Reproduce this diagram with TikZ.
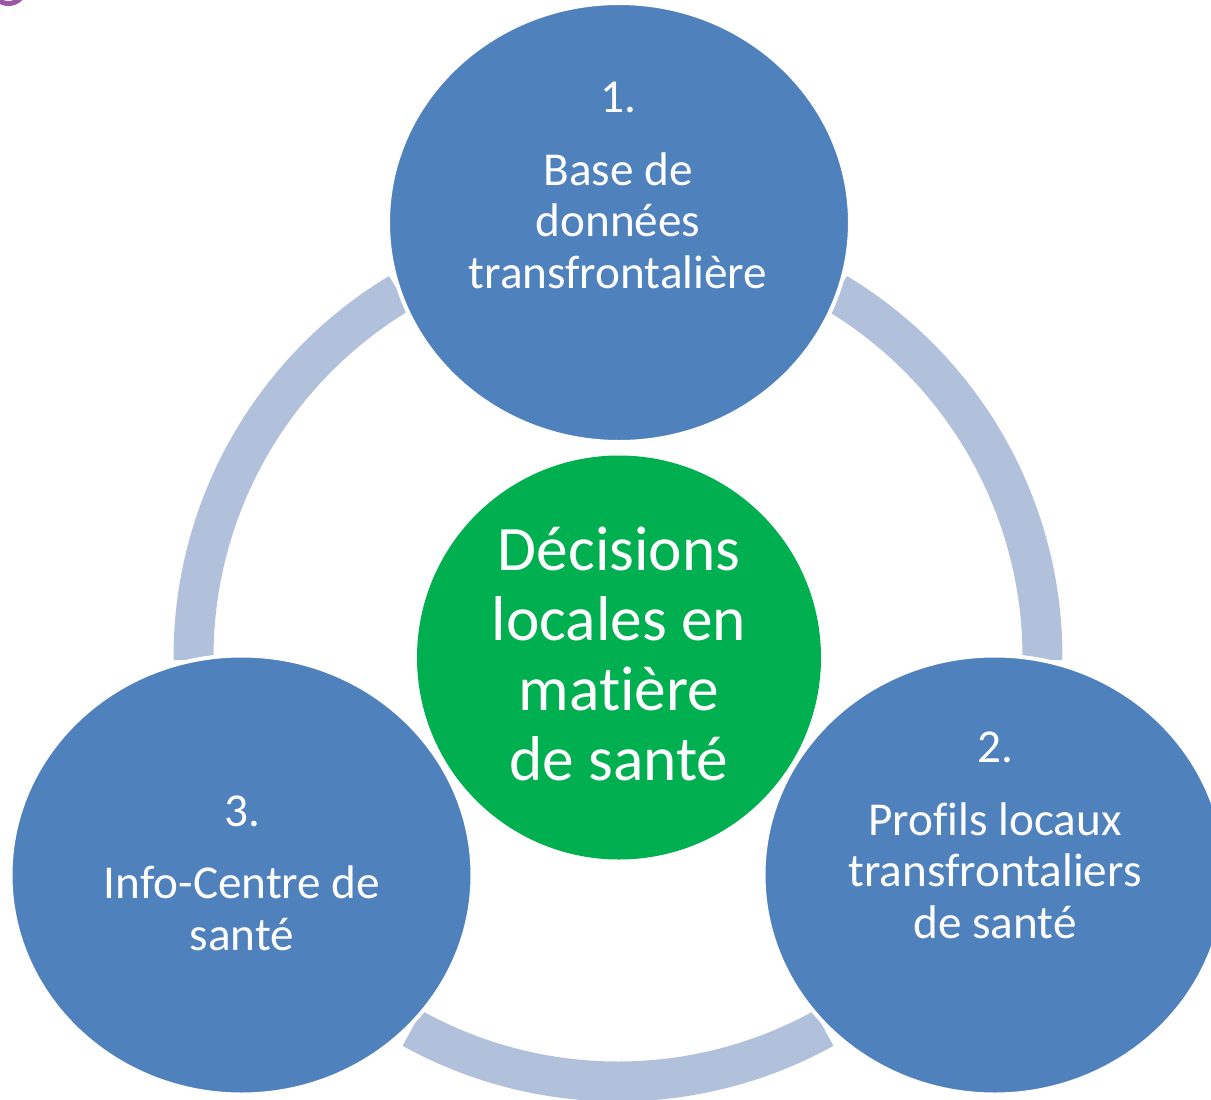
\documentclass[tikz,border=0pt]{standalone}
\usepackage{fontspec}
\setmainfont{Carlito}[Ligatures=NoCommon]
\usetikzlibrary{shapes.geometric,calc}
\definecolor{blueC}{HTML}{4F81BD}
\definecolor{ringC}{HTML}{B2C1DB}
\definecolor{greenC}{HTML}{00B050}
\definecolor{purpleC}{HTML}{9B57A5}
\begin{document}
\begin{tikzpicture}[x=0.75pt,y=-0.75pt,
  bub/.style={ellipse, fill=blueC, draw=white, line width=3pt,
    minimum width=346.5pt, minimum height=329.25pt, inner sep=0pt, outer sep=0pt},
  hub/.style={circle, fill=greenC, minimum size=303pt, inner sep=0pt, outer sep=0pt},
  ringarc/.style={draw=ringC, line width=30pt},
  small/.style={text=white, font=\fontsize{35.4}{42}\selectfont, anchor=base, inner sep=0pt},
  big/.style={text=white, font=\fontsize{47.5}{56}\selectfont, anchor=base, inner sep=0pt}]
\useasboundingbox (0,0) rectangle (1211,1100);
\clip (0,0) rectangle (1211,1100);
% purple fragment at top-left
\draw[purpleC, line width=3.75pt] (-2,0) .. controls (5,5) and (14,5) .. (21,-2);
% ring
\coordinate (ctr) at (618,657);
\draw[ringarc] ($(ctr)+(121:318.375pt)$) arc[start angle=121, end angle=180.4, radius=318.375pt];
\draw[ringarc] ($(ctr)+(-0.4:318.375pt)$) arc[start angle=-0.4, end angle=59, radius=318.375pt];
\draw[ringarc] ($(ctr)+(241:318.375pt)$) arc[start angle=241, end angle=299, radius=318.375pt];
% circles
\node[bub] (c1) at (619,222.5) {};
\node[bub] (c2) at (994.5,875) {};
\node[bub] (c3) at (241.5,875) {};
\node[hub] (hub) at (619,657.5) {};
% texts circle 1
\node[small] (t1a) at (618,112) {1.};
\node[small] (t1b) at (618,185) {Base de};
\node[small] (t1c) at (618,236.7) {données};
\node[small] (t1d) at (618,288.3) {transfrontalière};
% texts circle 2
\node[small] (t2a) at (995,762.7) {2.};
\node[small] (t2b) at (995,835) {Profils locaux};
\node[small] (t2c) at (995,886.7) {transfrontaliers};
\node[small] (t2d) at (995,938.3) {de santé};
% texts circle 3
\node[small] (t3a) at (242,826) {3.};
\node[small] (t3b) at (242,898.3) {Info-Centre de};
\node[small] (t3c) at (242,950) {santé};
% hub text
\node[big] (h1) at (619,570) {Décisions};
\node[big] (h2) at (619,640) {locales en};
\node[big] (h3) at (619,710) {matière};
\node[big] (h4) at (619,780) {de santé};
\end{tikzpicture}
\end{document}
